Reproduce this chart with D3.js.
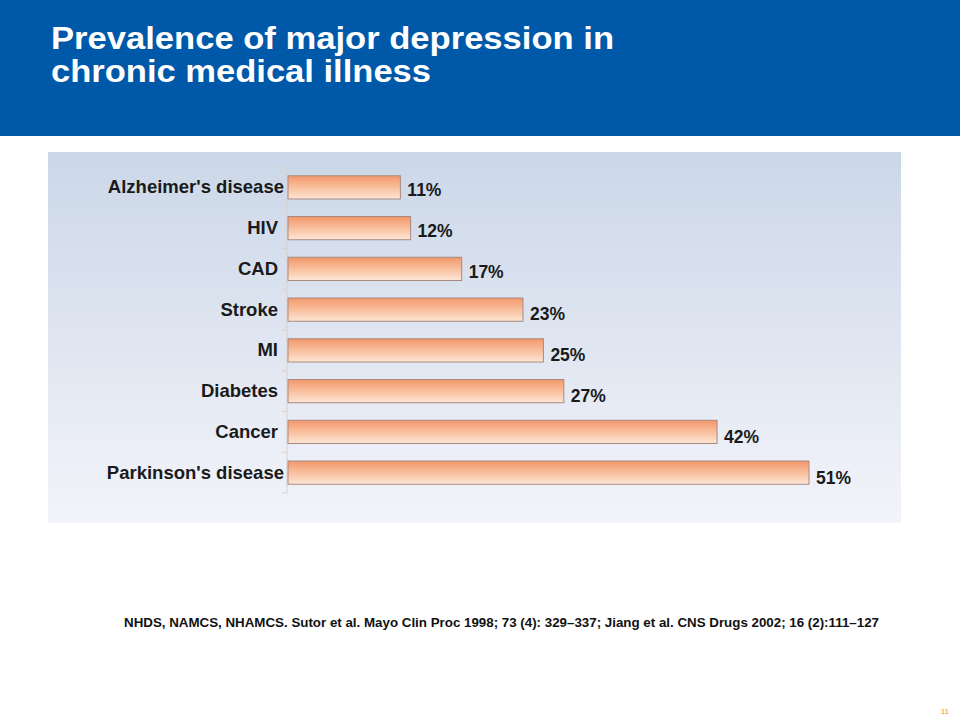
<!DOCTYPE html>
<html><head><meta charset="utf-8">
<script src="https://cdn.jsdelivr.net/npm/d3@7"></script>
<style>html,body{margin:0;padding:0;background:#fff;}svg{display:block;font-family:Arial,"Liberation Sans",Helvetica,sans-serif;}</style>
</head><body>
<script>
const categories = ["Alzheimer's disease","HIV","CAD","Stroke","MI","Diabetes","Cancer","Parkinson's disease"];
const values = [11,12,17,23,25,27,42,51];
const valueLabels = ["11%","12%","17%","23%","25%","27%","42%","51%"];
const titleLines = ["Prevalence of major depression in","chronic medical illness"];
const footnote = "NHDS, NAMCS, NHAMCS. Sutor et al. Mayo Clin Proc 1998; 73 (4): 329\u2013337; Jiang et al. CNS Drugs 2002; 16 (2):111\u2013127";
const pageNum = "11";

const W=960,H=717;
const svg=d3.select("body").append("svg").attr("width",W).attr("height",H);
const defs=svg.append("defs");
const pg=defs.append("linearGradient").attr("id","panel").attr("x1",0).attr("y1",0).attr("x2",0).attr("y2",1);
pg.append("stop").attr("offset","0%").attr("stop-color","#cbd7e8");
pg.append("stop").attr("offset","100%").attr("stop-color","#f3f4fa");
const bg=defs.append("linearGradient").attr("id","bar").attr("x1",0).attr("y1",0).attr("x2",0).attr("y2",1);
bg.append("stop").attr("offset","0%").attr("stop-color","#f3976a");
bg.append("stop").attr("offset","45%").attr("stop-color","#f8bb98");
bg.append("stop").attr("offset","100%").attr("stop-color","#fde6d6");

// header
svg.append("rect").attr("x",0).attr("y",0).attr("width",W).attr("height",136).attr("fill","#0059a8");
svg.selectAll("text.title").data(titleLines).enter().append("text")
  .attr("x",51).attr("y",(d,i)=>49+i*33).attr("fill","#fff")
  .attr("font-size",31).attr("font-weight","bold")
  .attr("textLength",(d,i)=>i===0?563:380).attr("lengthAdjust","spacingAndGlyphs")
  .text(d=>d);

// panel
svg.append("rect").attr("x",48).attr("y",152).attr("width",853).attr("height",371).attr("fill","url(#panel)");

const x=d3.scaleLinear().domain([0,51]).range([288,809]);
const y=d3.scaleBand().domain(categories).range([167,493]).paddingInner(0.43).paddingOuter(0.215);

// axis
const axisG=svg.append("g");
axisG.append("line").attr("x1",287).attr("x2",287).attr("y1",167).attr("y2",493).attr("stroke","#ddd0cc").attr("stroke-width",1);
const tickYs=d3.range(categories.length+1).map(i=>167+i*(326/categories.length));
axisG.selectAll("line.tick").data(tickYs).enter().append("line")
  .attr("x1",282).attr("x2",287).attr("y1",d=>d).attr("y2",d=>d).attr("stroke","#ddd0cc");

svg.selectAll("rect.bar").data(values).enter().append("rect")
  .attr("x",x(0)).attr("y",(d,i)=>y(categories[i]))
  .attr("width",d=>x(d)-x(0)).attr("height",y.bandwidth())
  .attr("fill","url(#bar)").attr("stroke","#a88a80").attr("stroke-width",1);

svg.selectAll("text.cat").data(categories).enter().append("text")
  .attr("x",(d,i)=>i===0||i===7?284:278).attr("y",d=>y(d)+y.bandwidth()/2+6)
  .attr("text-anchor","end").attr("font-size",18.5).attr("font-weight","bold").attr("fill","#1a1a1a")
  .text(d=>d);

svg.selectAll("text.val").data(values).enter().append("text")
  .attr("x",d=>x(d)+7).attr("y",(d,i)=>y(categories[i])+y.bandwidth()/2+9+i*0.3)
  .attr("font-size",17.5).attr("font-weight","bold").attr("fill","#1a1a1a")
  .text((d,i)=>valueLabels[i]);

svg.append("text").attr("x",124).attr("y",627).attr("font-size",12.5).attr("font-weight","bold").attr("fill","#111")
  .attr("textLength",755).attr("lengthAdjust","spacingAndGlyphs").text(footnote);

svg.append("text").attr("x",949).attr("y",714).attr("text-anchor","end").attr("font-size",8).attr("fill","#d9a030").text(pageNum);
</script>
</body></html>
